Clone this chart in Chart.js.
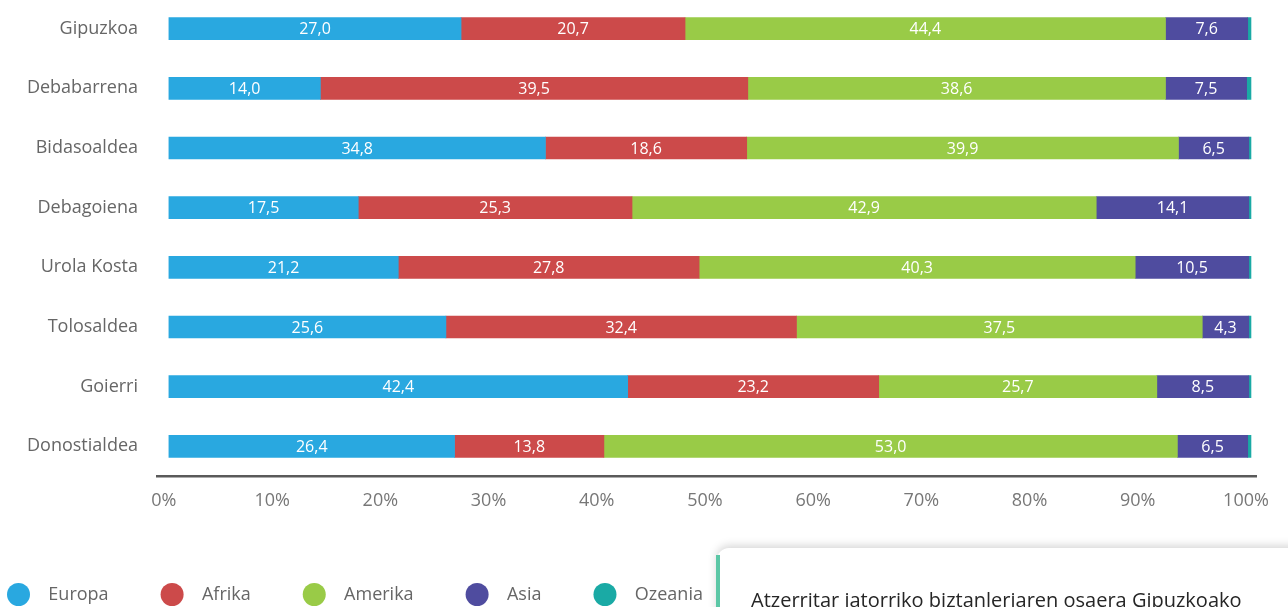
<!DOCTYPE html>
<html>
<head>
<meta charset="utf-8">
<script src="https://cdn.jsdelivr.net/npm/chart.js@4"></script>
<style>
  html, body { margin: 0; padding: 0; background: #fff; overflow: hidden; }
  #wrap { position: absolute; left: 0; top: -31px; width: 1288px; height: 647px; }
  #card {
    position: absolute; left: 717px; top: 548px; width: 620px; height: 120px;
    background: #fff; border-top-left-radius: 12px;
    box-shadow: 0 -2px 10px rgba(0,0,0,0.18);
  }
  #card .bar { position: absolute; left: -1px; top: 7px; width: 4px; height: 120px; background: #5cc7a6; }
  #card .txt {
    position: absolute; left: 34px; top: 38px; white-space: nowrap;
    font-family: "Open Sans", sans-serif; font-size: 20px; color: #262626;
  }
</style>
</head>
<body>
<div id="wrap"><canvas id="chart"></canvas></div>
<div id="card"><div class="bar"></div><div class="txt">Atzerritar jatorriko biztanleriaren osaera Gipuzkoako</div></div>
<script>
// --- Datos ---
const regions = ['Gipuzkoa', 'Debabarrena', 'Bidasoaldea', 'Debagoiena', 'Urola Kosta', 'Tolosaldea', 'Goierri', 'Donostialdea'];
const europa  = [27.0, 14.0, 34.8, 17.5, 21.2, 25.6, 42.4, 26.4];
const afrika  = [20.7, 39.5, 18.6, 25.3, 27.8, 32.4, 23.2, 13.8];
const amerika = [44.4, 38.6, 39.9, 42.9, 40.3, 37.5, 25.7, 53.0];
const asia    = [7.6, 7.5, 6.5, 14.1, 10.5, 4.3, 8.5, 6.5];
const ozeania = [0.3, 0.4, 0.2, 0.2, 0.2, 0.2, 0.2, 0.3];
const xTicks  = [0, 10, 20, 30, 40, 50, 60, 70, 80, 90, 100];

const FONT = '"Open Sans", sans-serif';

// etiquetas blancas dentro de cada segmento
const barLabels = {
    id: 'barLabels',
    afterDatasetsDraw(chart) {
        const ctx = chart.ctx;
        ctx.save();
        ctx.font = '16px ' + FONT;
        ctx.fillStyle = '#ffffff';
        ctx.textAlign = 'center';
        ctx.textBaseline = 'middle';
        chart.data.datasets.forEach((ds, i) => {
            if (ds.hideLabels) return;
            chart.getDatasetMeta(i).data.forEach((bar, j) => {
                const p = bar.getProps(['x', 'y', 'base'], true);
                ctx.fillText(ds.data[j].toFixed(1).replace('.', ','), (p.x + p.base) / 2, p.y + 1);
            });
        });
        ctx.restore();
    }
};

// la leyenda empieza pegada al borde izquierdo
const legendShift = {
    id: 'legendShift',
    afterLayout(chart) {
        if (chart.legend) chart.legend.left -= 45;
    }
};

function makeSet(label, data, color, hideLabels) {
    return { label: label, data: data, backgroundColor: color, borderWidth: 0, barThickness: 22, hideLabels: !!hideLabels };
}

new Chart(document.getElementById('chart'), {
    type: 'bar',
    data: {
        labels: regions,
        datasets: [
            makeSet('Europa', europa, '#29a8e0'),
            makeSet('Afrika', afrika, '#cc4a4a'),
            makeSet('Amerika', amerika, '#99cb47'),
            makeSet('Asia', asia, '#4f4c9f'),
            makeSet('Ozeania', ozeania, '#1aaaa5', true)
        ]
    },
    options: {
        indexAxis: 'y',
        responsive: true,
        maintainAspectRatio: false,
        animation: false,
        layout: { padding: { left: 0, right: 30, top: 0, bottom: 0 } },
        scales: {
            x: {
                stacked: true,
                min: -1.1,
                max: 100.5,
                afterBuildTicks: (axis) => { axis.ticks = xTicks.map(v => ({ value: v })); },
                grid: { display: false, drawTicks: false },
                border: { display: true, color: '#5a5a5a', width: 2.5 },
                ticks: {
                    color: '#777', padding: 14, labelOffset: -5,
                    font: { family: FONT, size: 18 },
                    callback: (v) => v + '%'
                },
                title: { display: true, text: ' ', padding: { top: 0, bottom: 4 }, font: { size: 1 } }
            },
            y: {
                stacked: true,
                afterFit: (axis) => { axis.width = 157; },
                grid: { display: false, drawTicks: false },
                border: { display: false },
                ticks: { color: '#666', padding: 19, font: { family: FONT, size: 18 } }
            }
        },
        plugins: {
            legend: {
                position: 'bottom',
                align: 'start',
                labels: {
                    boxWidth: 23, boxHeight: 23,
                    useBorderRadius: true, borderRadius: 11.5,
                    padding: 52,
                    color: '#666',
                    font: { family: FONT, size: 18 },
                    generateLabels: (chart) => chart.data.datasets.map((ds, i) => ({
                        text: '  ' + ds.label,
                        fillStyle: ds.backgroundColor,
                        strokeStyle: ds.backgroundColor,
                        lineWidth: 0,
                        borderRadius: 11.5,
                        fontColor: '#666',
                        hidden: false,
                        datasetIndex: i
                    }))
                }
            },
            tooltip: { enabled: false }
        }
    },
    plugins: [barLabels, legendShift]
});
</script>
</body>
</html>
